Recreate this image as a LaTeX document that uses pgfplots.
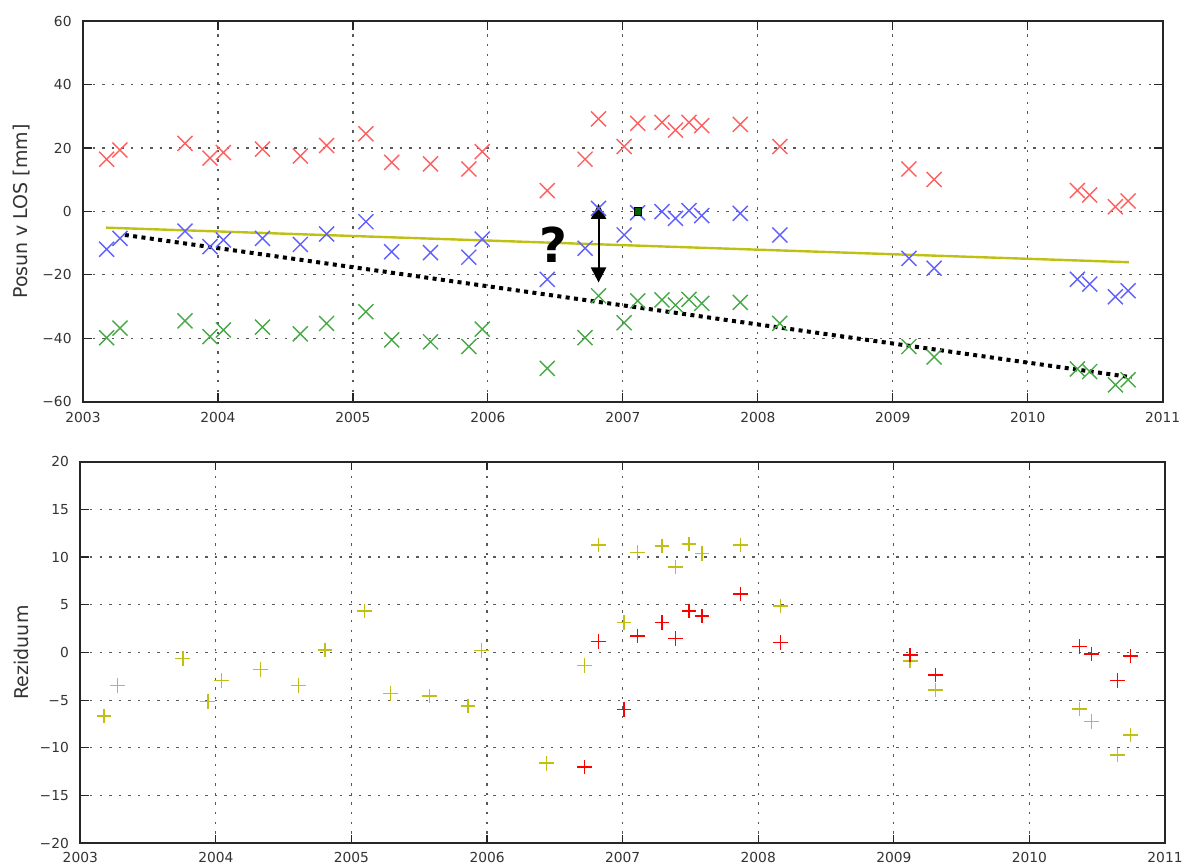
\documentclass[border=0pt]{standalone}
\usepackage{fontspec}
\setmainfont{DejaVu Sans}
\usepackage{pgfplots}
\usepackage{pgfplotstable}
\pgfplotsset{compat=1.18}
\usetikzlibrary{arrows.meta}
\definecolor{xred}{RGB}{255,95,95}
\definecolor{xblue}{RGB}{95,95,255}
\definecolor{xgreen}{RGB}{70,168,70}
\definecolor{yel}{RGB}{192,192,20}
\definecolor{dkgreen}{RGB}{0,100,0}

\pgfplotstableread{
t red blue green
2003.175 16.5 -11.9 -39.8
2003.274 19.4 -8.5 -36.8
2003.756 21.5 -6.2 -34.5
2003.941 16.8 -11.1 -39.5
2004.040 18.6 -9.0 -37.4
2004.330 19.7 -8.5 -36.5
2004.610 17.5 -10.4 -38.6
2004.805 20.8 -7.1 -35.3
2005.096 24.5 -3.2 -31.6
2005.287 15.5 -12.7 -40.5
2005.575 15.0 -13.0 -41.1
2005.859 13.4 -14.4 -42.6
2005.958 18.9 -8.7 -37.1
2006.440 6.6 -21.4 -49.5
2006.720 16.5 -11.6 -39.8
2006.820 29.2 1.0 -26.6
2007.010 20.5 -7.4 -35.1
2007.110 27.8 -0.4 -28.2
2007.290 28.1 -0.05 -27.9
2007.390 25.7 -2.2 -29.5
2007.490 28.1 0.3 -27.7
2007.585 27.1 -1.3 -29.0
2007.870 27.5 -0.6 -28.7
2008.163 20.5 -7.4 -35.3
2009.120 13.4 -14.8 -42.6
2009.307 10.1 -17.9 -45.9
2010.368 6.6 -21.4 -49.7
2010.459 5.2 -22.9 -50.5
2010.650 1.5 -26.9 -54.7
2010.744 3.3 -25.0 -53.1
}\toptable

\pgfplotstableread{
t yres rres
2003.175 -6.65 nan
2003.274 -3.44 nan
2003.756 -0.65 nan
2003.941 -5.15 nan
2004.040 -2.95 nan
2004.330 -1.76 nan
2004.610 -3.44 nan
2004.805 0.26 nan
2005.096 4.35 nan
2005.287 -4.28 nan
2005.575 -4.56 nan
2005.859 -5.60 nan
2005.958 0.19 nan
2006.440 -11.60 nan
2006.720 -1.35 -12.00
2006.820 11.27 1.14
2007.010 3.16 -5.95
2007.110 10.50 1.73
2007.290 11.16 3.16
2007.390 8.96 1.48
2007.490 11.37 4.35
2007.585 10.39 3.82
2007.870 11.27 6.13
2008.163 4.87 1.03
2009.120 -0.89 -0.26
2009.307 -3.93 -2.36
2010.368 -5.92 0.61
2010.459 -7.24 -0.16
2010.650 -10.74 -2.95
2010.744 -8.65 -0.37
}\bottable

\begin{document}
\begin{tikzpicture}
\useasboundingbox (0,0) rectangle (591pt,432.5pt);
\pgfplotsset{common/.style={
  scale only axis, anchor=south west,
  xmin=2003, xmax=2011,
  xtick={2003,2004,2005,2006,2007,2008,2009,2010,2011},
  xticklabels={2003,2004,2005,2006,2007,2008,2009,2010,2011},
  grid=major,
  grid style={black!65, line width=0.6pt, dash pattern=on 1.2pt off 3.6pt},
  axis line style={line width=1.1pt, black!85},
  tick style={line width=0.6pt, black!85},
  major tick length=4.3pt,
  tick align=inside,
  ticklabel style={font=\fontsize{6.9}{8}\selectfont, text=black!80},
  yticklabel style={xshift=-2.2pt},
  label style={font=\fontsize{9.5}{11}\selectfont, text=black!80},
}}
% top panel
\begin{axis}[common, at={(41.5pt,231.65pt)}, width=539.85pt, height=190.2pt,
  xticklabel style={inner sep=1pt, yshift=-4pt},
  ymin=-60, ymax=60, ytick={-60,-40,-20,0,20,40,60},
  yticklabels={−60,−40,−20,0,20,40,60},
  ylabel={Posun v LOS [mm]},
  ylabel style={at={(axis description cs:-0.0565,0.5)}, anchor=center}]
\addplot[only marks, mark=x, mark size=5.3pt, color=xred, mark options={line width=0.7pt}] table[x=t,y=red] {\toptable};
\addplot[only marks, mark=x, mark size=5.3pt, color=xblue, mark options={line width=0.7pt}] table[x=t,y=blue] {\toptable};
\addplot[only marks, mark=x, mark size=5.3pt, color=xgreen, mark options={line width=0.7pt}] table[x=t,y=green] {\toptable};
\addplot[yel, line width=1.2pt] coordinates {(2003.17,-5.1) (2010.75,-16.0)};
\addplot[black, line width=2pt, dash pattern=on 2pt off 2.2pt] coordinates {(2003.31,-7.4) (2010.77,-52.3)};
\addplot[only marks, mark=square*, mark size=1.8pt, color=black, fill=dkgreen, mark options={line width=0.4pt}] coordinates {(2007.11,0)};
\draw[{Triangle[width=7.5pt,length=7.5pt]}-{Triangle[width=7.5pt,length=7.5pt]}, line width=1pt] (axis cs:2006.82,2.4) -- (axis cs:2006.82,-22.4);
\node[font=\fontsize{24}{24}\selectfont\bfseries] at (axis cs:2006.484,-10.6) {?};
\end{axis}
% bottom panel
\begin{axis}[common, at={(40.15pt,10.85pt)}, width=542.35pt, height=190.8pt,
  xticklabel style={inner sep=0.7pt, yshift=-3.4pt},
  ymin=-20, ymax=20, ytick={-20,-15,-10,-5,0,5,10,15,20},
  yticklabels={−20,−15,−10,−5,0,5,10,15,20},
  ylabel={Reziduum},
  ylabel style={at={(axis description cs:-0.054,0.5)}, anchor=center}]
\addplot[only marks, mark=+, mark size=3.7pt, color=yel, mark options={line width=0.75pt}] table[x=t,y=yres] {\bottable};
\addplot[only marks, mark=+, mark size=3.7pt, color=red, mark options={line width=0.75pt}] table[x=t,y=rres] {\bottable};
\end{axis}
\end{tikzpicture}
\end{document}
